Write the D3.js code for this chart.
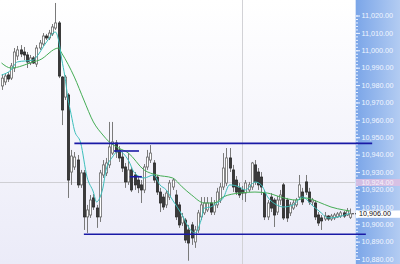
<!DOCTYPE html>
<html>
<head>
<meta charset="utf-8">
<script src="https://cdn.jsdelivr.net/npm/d3@7"></script>
<style>
html,body{margin:0;padding:0;background:#fff;overflow:hidden}
svg{display:block}
.eje text{font-family:"Liberation Sans",Arial,sans-serif;font-size:7.2px;fill:#f2f6ff}
.eje path{display:none}
.eje line{stroke:#eef3ff}
.etiqueta{font-family:"Liberation Sans",Arial,sans-serif;font-size:7.2px}
</style>
</head>
<body>
<div id="zona_grafica"></div>
<script>
//Velas (OHLC), una por periodo
var apertura = [10979.5,10981.8,10985.8,10984.0,10989.8,10996.7,11000.2,10999.0,10997.3,10992.7,
  10995.6,10992.1,11001.3,11003.6,11008.2,11007.1,11009.4,11012.8,11015.7,10984.6,
  10973.1,10974.3,10930.0,10932.9,10936.9,10922.6,10929.5,10904.2,10905.3,10915.1,
  10909.3,10904.2,10928.3,10929.5,10934.1,10940.9,10946.7,10942.7,10938.6,10932.9,
  10924.3,10931.2,10928.3,10925.4,10922.6,10919.7,10932.9,10936.9,10935.2,10927.1,
  10918.5,10915.6,10911.1,10915.6,10921.4,10916.8,10911.1,10900.7,10902.4,10896.7,
  10899.6,10889.8,10896.7,10904.2,10906.5,10908.2,10912.2,10907.0,10911.1,10913.9,
  10921.4,10923.7,10938.1,10931.2,10925.4,10920.9,10919.7,10917.9,10919.7,10921.4,
  10934.1,10930.0,10927.1,10917.9,10904.2,10915.6,10913.9,10907.0,10913.9,10922.6,
  10913.9,10906.5,10909.3,10911.1,10915.6,10918.5,10924.3,10918.5,10912.8,10912.2,
  10905.3,10903.6,10903.0,10904.7,10903.0,10903.6,10904.2,10904.7,10906.5,10905.3,
  10904.0]
var maximo = [10986.3,10986.9,10987.5,10992.7,11001.3,11002.5,11003.0,11001.9,10999.0,10997.3,
  10996.7,11003.0,11005.9,11009.9,11009.4,11011.7,11015.1,11027.2,11016.8,10985.2,
  10985.8,10975.4,10942.7,10941.5,10939.8,10931.2,10931.2,10911.1,10916.8,10917.4,
  10911.1,10931.2,10936.9,10938.1,10958.8,10958.8,10948.4,10945.0,10941.5,10935.2,
  10940.9,10932.9,10930.0,10927.1,10925.4,10934.6,10942.7,10945.5,10936.9,10928.3,
  10920.9,10917.4,10919.7,10925.4,10926.6,10919.7,10912.8,10906.5,10903.6,10899.6,
  10901.3,10899.0,10908.2,10915.6,10915.6,10915.6,10915.6,10913.9,10920.9,10923.7,
  10940.9,10943.8,10943.8,10934.1,10927.7,10923.7,10922.0,10925.4,10924.3,10935.8,
  10936.9,10932.3,10930.0,10919.7,10913.9,10917.9,10915.1,10916.2,10919.7,10923.7,
  10915.1,10912.8,10913.9,10915.1,10928.3,10920.9,10928.3,10920.9,10915.1,10913.9,
  10907.0,10905.3,10907.0,10905.3,10905.9,10906.5,10907.0,10907.6,10907.6,10909.3,
  10909.0]
var minimo = [10977.2,10980.0,10981.8,10982.9,10987.5,10994.4,10996.1,10994.4,10989.8,10991.5,
  10992.1,10990.4,11000.2,11002.5,11005.9,11005.9,11008.2,11011.7,10984.0,10957.0,
  10971.4,10915.1,10922.6,10931.2,10920.9,10920.9,10896.7,10895.0,10903.6,10908.2,
  10897.9,10901.3,10926.6,10927.7,10932.3,10939.8,10938.1,10935.8,10930.0,10920.9,
  10922.6,10918.5,10919.7,10917.9,10912.2,10917.9,10931.2,10935.2,10923.7,10916.8,
  10907.0,10908.2,10909.3,10913.9,10919.7,10902.4,10897.9,10899.0,10889.2,10879.0,
  10888.1,10886.4,10895.0,10902.4,10905.3,10907.0,10905.3,10905.3,10909.3,10912.2,
  10919.7,10922.0,10930.0,10918.5,10916.8,10915.1,10913.9,10912.8,10918.5,10919.7,
  10922.6,10919.7,10916.8,10902.4,10902.4,10907.0,10898.4,10905.3,10911.1,10902.4,
  10901.3,10904.7,10908.2,10909.9,10913.9,10911.1,10916.8,10911.1,10911.1,10902.4,
  10899.0,10896.7,10901.9,10901.9,10901.9,10902.4,10903.6,10903.6,10903.6,10904.7,
  10903.0]
var cierre = [10984.0,10985.2,10983.5,10991.0,10999.0,11000.2,10997.9,10997.3,10993.3,10995.6,
  10992.7,11001.3,11004.2,11008.2,11007.1,11009.9,11013.4,11015.7,10985.2,10965.7,
  10984.6,10925.4,10939.2,10938.6,10922.6,10929.5,10904.2,10908.2,10913.9,10909.9,
  10904.2,10929.5,10934.1,10935.2,10944.4,10947.3,10941.5,10938.1,10932.3,10924.3,
  10931.2,10919.7,10922.6,10920.9,10919.7,10932.9,10938.6,10940.9,10925.4,10918.5,
  10912.2,10909.9,10917.9,10923.7,10925.4,10904.2,10899.6,10904.2,10890.9,10889.2,
  10892.1,10896.7,10906.5,10911.1,10912.2,10912.2,10907.0,10911.1,10918.5,10921.4,
  10932.3,10938.1,10932.3,10921.4,10918.5,10916.8,10917.9,10923.7,10922.6,10935.2,
  10924.3,10922.6,10921.4,10904.2,10912.2,10909.3,10905.3,10913.9,10916.8,10903.6,
  10903.6,10911.1,10912.2,10913.9,10922.6,10912.8,10918.5,10912.8,10913.9,10904.2,
  10900.7,10901.9,10904.7,10903.0,10904.7,10905.3,10905.9,10906.5,10904.7,10907.6,
  10906.0]

//Medias moviles: [indice de vela, precio]
var mediaRapida = [[0,10985.8],[3,10988.7],[5,10993.3],[10,10994.4],[11,10996.1],[14,11004.2],
  [17,11010.5],[18,11006.0],[19,10995.0],[20,10985.0],[21,10972.0],[22,10963.0],[23,10954.2],
  [25,10946.7],[27,10927.1],[29,10918.5],[30,10912.8],[31,10915.1],[32,10920.8],[33,10931.2],
  [35,10938.6],[37,10942.1],[40,10936.9],[42,10929.5],[45,10926.6],[48,10928.3],[50,10922.6],
  [52,10919.7],[54,10913.9],[57,10905.3],[59,10898.4],[61,10894.9],[63,10902.4],[64,10909.3],
  [66,10909.9],[68,10912.2],[70,10915.1],[72,10922.6],[75,10921.5],[77,10919.7],[80,10924.3],
  [82,10922.6],[84,10915.7],[87,10911.0],[89,10909.9],[92,10911.0],[95,10915.7],[98,10911.0],
  [101,10906.4],[103,10903.6],[106,10904.1],[110,10906.4]]
var mediaLenta = [[0,10992.7],[3,10989.8],[10,10993.3],[12,10994.4],[18,11001.3],[19,10998.4],
  [23,10984.6],[26,10971.4],[29,10958.8],[32,10951.3],[34,10947.3],[37,10943.8],[40,10941.0],
  [45,10931.2],[49,10928.3],[54,10926.6],[57,10921.5],[60,10916.8],[64,10912.2],[67,10912.2],
  [70,10915.7],[75,10917.9],[80,10918.5],[84,10917.9],[88,10915.7],[93,10913.9],[96,10915.1],
  [100,10912.8],[104,10909.9],[108,10908.2],[110,10907.6]]

//Lineas horizontales azules (soporte / resistencia)
var nivelPrecio = [10946.5, 10894.2, 10942.1, 10927.3]
var nivelDesde = [23, 26, 35.5, 40.5]
var nivelHasta = [117, 115, 43.4, 44.3]

//Cursor y ultimo precio
var cursorIndice = 75.8
var cursorPrecio = 10924
var ultimoPrecio = 10906

//Marcas del eje
var ticksMayores = d3.range(10880, 11021, 10)
var ticksMenores = d3.range(10880, 11021, 2)

var width = 400,
    height = 264,
    margin = {top:15.5, right:45, bottom:5, left:0}
var finPlot = width - margin.right

//Escalas
var escalaX = d3.scaleLinear()
    .domain([0, apertura.length-1])
    .range([1.5, 350])

var escalaY = d3.scaleLinear()
    .domain([10880, 11020])
    .range([height - margin.bottom, margin.top])

var svg = d3.select("#zona_grafica")
    .append("svg")
    .attr("width", width)
    .attr("height", height)

var defs = svg.append("defs")
var fondo = defs.append("linearGradient").attr("id","fondo").attr("x1",0).attr("y1",0).attr("x2",0).attr("y2",1)
fondo.append("stop").attr("offset","0%").attr("stop-color","#ffffff")
fondo.append("stop").attr("offset","100%").attr("stop-color","#ebebf8")
var fondoEje = defs.append("linearGradient").attr("id","fondoEje").attr("x1",0).attr("y1",0).attr("x2",1).attr("y2",0)
fondoEje.append("stop").attr("offset","0%").attr("stop-color","#7aa5e8")
fondoEje.append("stop").attr("offset","100%").attr("stop-color","#b3ccf2")

//Fondo del area de grafica
svg.append("rect")
    .attr("x",0).attr("y",0)
    .attr("width", finPlot).attr("height", height)
    .attr("fill","url(#fondo)")

//Cursor (cruz gris)
svg.append("line")
    .attr("x1", Math.round(escalaX(cursorIndice))+0.5).attr("x2", Math.round(escalaX(cursorIndice))+0.5)
    .attr("y1", 0).attr("y2", height)
    .attr("stroke","#d2d2d6")
svg.append("line")
    .attr("x1", 0).attr("x2", finPlot)
    .attr("y1", Math.round(escalaY(cursorPrecio))+0.5).attr("y2", Math.round(escalaY(cursorPrecio))+0.5)
    .attr("stroke","#cfcfd4")

//Velas
var datos = apertura.map((d,i)=>({i:i, o:d, h:maximo[i], l:minimo[i], c:cierre[i]}))

var velas = svg.append("g")
velas.selectAll("line")
    .data(datos).enter()
    .append("line")
    .attr("x1", d=>Math.round(escalaX(d.i))+0.5)
    .attr("x2", d=>Math.round(escalaX(d.i))+0.5)
    .attr("y1", d=>escalaY(d.h))
    .attr("y2", d=>escalaY(d.l))
    .attr("stroke","#7a7a7a")

velas.selectAll("rect")
    .data(datos).enter()
    .append("rect")
    .attr("x", d=>Math.round(escalaX(d.i))-0.6)
    .attr("width", 2.2)
    .attr("y", d=>escalaY(Math.max(d.o,d.c)))
    .attr("height", d=>Math.max(1, Math.abs(escalaY(d.o)-escalaY(d.c))))
    .attr("fill", d=> d.c >= d.o ? "#ffffff" : "#3a3a3a")
    .attr("stroke", d=> d.c >= d.o ? "#6a6a6a" : "#2a2a2a")
    .attr("stroke-width", 0.8)

//Medias moviles
var linea = d3.line()
    .x(d=>escalaX(d[0]))
    .y(d=>escalaY(d[1]))
    .curve(d3.curveMonotoneX)

svg.append("path")
    .attr("d", linea(mediaLenta))
    .attr("fill","none")
    .attr("stroke","#45ad55")
    .attr("stroke-width",1)

svg.append("path")
    .attr("d", linea(mediaRapida))
    .attr("fill","none")
    .attr("stroke","#3cbfbb")
    .attr("stroke-width",1)

//Panel del eje de precios
svg.append("rect")
    .attr("x", finPlot).attr("y", 0)
    .attr("width", margin.right).attr("height", height)
    .attr("fill","url(#fondoEje)")
svg.append("line")
    .attr("x1", finPlot+0.5).attr("x2", finPlot+0.5)
    .attr("y1",0).attr("y2",height)
    .attr("stroke","#d3e1f8")

var ejeMenor = d3.axisRight(escalaY)
    .tickValues(ticksMenores)
    .tickSize(2)
    .tickFormat("")
var ejeMayor = d3.axisRight(escalaY)
    .tickValues(ticksMayores)
    .tickSize(4)
    .tickPadding(1.5)
    .tickFormat(d3.format(",.2f"))

svg.append("g")
    .attr("class","eje")
    .attr("transform","translate("+(finPlot+1)+",0)")
    .call(ejeMenor)
svg.append("g")
    .attr("class","eje")
    .attr("transform","translate("+(finPlot+1)+",0)")
    .call(ejeMayor)

//Etiqueta del cursor (rosa)
svg.append("rect")
    .attr("x", finPlot+1).attr("y", escalaY(cursorPrecio)-3.5)
    .attr("width", margin.right-1).attr("height", 7)
    .attr("fill","#dcc0e2").attr("opacity",0.9)
svg.append("text")
    .attr("class","etiqueta")
    .attr("x", finPlot+6.5).attr("y", escalaY(cursorPrecio))
    .attr("dy","0.33em")
    .attr("fill","#f8f2fa")
    .text(d3.format(",.2f")(cursorPrecio))

//Ultimo precio
svg.append("line")
    .attr("x1", escalaX(apertura.length-1)+2).attr("x2", finPlot+3)
    .attr("y1", escalaY(ultimoPrecio)).attr("y2", escalaY(ultimoPrecio))
    .attr("stroke","#333").attr("stroke-dasharray","2,1")
svg.append("rect")
    .attr("x", finPlot+1).attr("y", escalaY(ultimoPrecio)-3.3)
    .attr("width", margin.right-1).attr("height", 7.3)
    .attr("fill","#ffffff")
svg.append("text")
    .attr("class","etiqueta")
    .attr("x", finPlot+4).attr("y", escalaY(ultimoPrecio))
    .attr("dy","0.35em")
    .attr("fill","#111")
    .text(d3.format(",.2f")(ultimoPrecio))

//Niveles azules (encima de todo, entran en el eje)
svg.append("g")
    .selectAll("line")
    .data(nivelPrecio).enter()
    .append("line")
    .attr("x1", (d,i)=>escalaX(nivelDesde[i]))
    .attr("x2", (d,i)=>escalaX(nivelHasta[i]))
    .attr("y1", d=>escalaY(d))
    .attr("y2", d=>escalaY(d))
    .attr("stroke","#1a1aa6")
    .attr("stroke-width",1.6)
</script>
</body>
</html>
